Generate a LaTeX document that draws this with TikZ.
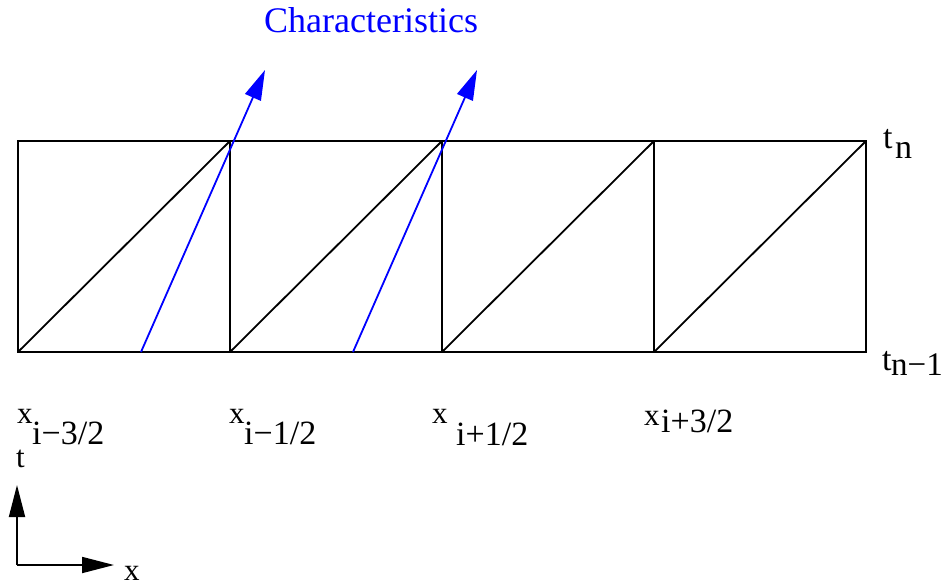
\documentclass[tikz,border=0pt]{standalone}
\usepackage{fontspec}
\setmainfont{Liberation Serif}
\usetikzlibrary{arrows.meta}
\begin{document}
\begin{tikzpicture}[x=1pt,y=-1pt,
  grid/.style={line width=1.8pt,black},
  charline/.style={line width=1.8pt,blue,-{Triangle[length=30pt,width=17pt]}},
  axisline/.style={line width=1.8pt,black,-{Triangle[length=32pt,width=16pt]}},
  lab/.style={inner sep=0pt,anchor=base west,font=\fontsize{31}{33}\selectfont},
  sub/.style={inner sep=0pt,anchor=base west,font=\fontsize{34}{36}\selectfont}]
\useasboundingbox (0,0) rectangle (944,586);
% grid corners
\foreach \i/\x in {0/18,1/230,2/442,3/654,4/866}{
  \coordinate (b\i) at (\x,352);
  \coordinate (t\i) at (\x,141);
}
\draw[grid] (b0) rectangle (t4);
\foreach \i in {1,2,3}{\draw[grid] (b\i) -- (t\i);}
\foreach \i/\j in {0/1,1/2,2/3,3/4}{\draw[grid] (b\i) -- (t\j);}
% characteristics
\coordinate (c1s) at (141,352);
\coordinate (c1e) at (265,70);
\coordinate (c2s) at (353,352);
\coordinate (c2e) at (477,70);
\draw[charline] (c1s) -- (c1e);
\draw[charline] (c2s) -- (c2e);
\node[lab,text=blue,font=\fontsize{36}{38}\selectfont] (char) at (264,33) {Characteristics};
% time labels
\node[sub] (tn) at (883,148) {t};
\node[sub] (tnsub) at (895,158) {n};
\node[sub] (tn1) at (882,370) {t};
\node[sub,font=\fontsize{33}{35}\selectfont] (tn1sub) at (891,375) {n−1};
% x labels
\node[lab] (x1) at (17,423) {x};
\node[sub] (x1sub) at (32,444) {i−3/2};
\node[lab] (x2) at (229,423) {x};
\node[sub] (x2sub) at (244,444) {i−1/2};
\node[lab] (x3) at (432,423) {x};
\node[sub] (x3sub) at (456,445) {i+1/2};
\node[lab] (x4) at (644,425) {x};
\node[sub] (x4sub) at (661,432) {i+3/2};
% axes
\coordinate (o) at (17,565);
\coordinate (ty) at (17,485);
\coordinate (tx) at (114,565);
\draw[axisline] (o) -- (ty);
\draw[axisline] (o) -- (tx);
\node[lab] (tl) at (16,467) {t};
\node[lab] (xl) at (124,580) {x};
\end{tikzpicture}
\end{document}
